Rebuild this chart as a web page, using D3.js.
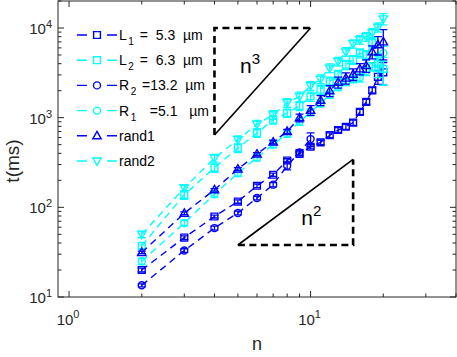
<!DOCTYPE html>
<html><head><meta charset="utf-8">
<script src="https://cdn.jsdelivr.net/npm/d3@7"></script>
<style>body{margin:0;background:#fff} svg{display:block}</style>
</head><body><svg id="c" width="457" height="357"></svg>
<script>
// ---------------- data ----------------
const nVals = [2,3,4,5,6,7,8,9,10,11,12,13,14,15,16,17,18,19,20];
const nValsR2 = [2,3,4,5,6,7,8,9,10];

const L1 = [20, 46, 79, 116, 174, 231, 333, 395, 474, 530, 637, 728, 792, 882, 1158, 1503, 2020, 2856, 3206];
const L1err = [1, 2, 3, 5, 8, 10, 15, 20, 25, 30, 40, 45, 50, 60, 80, 100, 140, 500, 900];

const L2 = [37.3, 138, 276, 458, 673, 948, 1125, 1350, 1722, 2050, 2535, 3008, 3890, 4420, 5250, 5000, 6790, 4000, 3500];
const L2err = [3, 15, 30, 50, 70, 100, 120, 150, 200, 250, 300, 350, 450, 500, 600, 600, 800, 1200, 1200];

const R2 = [13.5, 33, 58.7, 86.5, 127, 179, 291, 410, 577];
const R2err = [0.5, 1.5, 3, 4, 6, 10, 30, 30, 100];

const R1 = [25, 67, 140, 240, 360, 500, 660, 900, 1150, 1450, 1800, 2200, 2500, 2700, 2800, 3300, 3700, 4100, 5250];
const R1err = [2, 5, 10, 18, 30, 40, 55, 80, 100, 130, 160, 200, 220, 250, 300, 350, 400, 800, 1000];

const rand1 = [31.4, 86, 157, 267, 393, 535, 702, 997, 1211, 1565, 1995, 2483, 2762, 3048, 3500, 3800, 5420, 6500, 7010];
const rand1err = [1, 3, 5, 10, 15, 25, 40, 100, 150, 200, 280, 350, 400, 450, 500, 600, 900, 1500, 2600];

const rand2 = [50, 164, 355, 567, 844, 1077, 1466, 1722, 2268, 2693, 3572, 4235, 5420, 6670, 7400, 7980, 8840, 10190, 12650];
const rand2err = [4, 15, 35, 60, 90, 120, 160, 200, 250, 300, 400, 450, 600, 700, 800, 900, 1000, 1200, 1800];

const seriesNames = ["L1", "L2", "R2", "R1", "rand1", "rand2"];
const legendMain = ["L", "L", "R", "R", "rand1", "rand2"];
const legendSub = ["1", "2", "2", "1", "", ""];
const legendRest = ["=  5.3  \u00B5m", "=  6.3  \u00B5m", "=13.2  \u00B5m", "  =5.1   \u00B5m", "", ""];

const xMajorTicks = [1, 10];
const xMajorExp = ["0", "1"];
const xMinorTicks = [2,3,4,5,6,7,8,9,20,30,40];
const yMajorTicks = [10, 100, 1000, 10000];
const yMajorExp = ["1", "2", "3", "4"];
const yMinorTicks = [20,30,40,50,60,70,80,90,200,300,400,500,600,700,800,900,2000,3000,4000,5000,6000,7000,8000,9000,20000];

// slope triangles (data coords)
const tri3X = [4, 10], tri3Y = [640, 10000];
const tri2X = [5, 15], tri2Y = [38, 342];

// ---------------- setup ----------------
const BLUE = "#0000ff", CYAN = "#00ffff", AX = "#262626";
const FONT = "'Liberation Sans', Arial, sans-serif";
const series = [
  {name: "L1", x: nVals, y: L1, e: L1err, color: BLUE, marker: "square"},
  {name: "L2", x: nVals, y: L2, e: L2err, color: CYAN, marker: "square"},
  {name: "R2", x: nValsR2, y: R2, e: R2err, color: BLUE, marker: "circle"},
  {name: "R1", x: nVals, y: R1, e: R1err, color: CYAN, marker: "circle"},
  {name: "rand1", x: nVals, y: rand1, e: rand1err, color: BLUE, marker: "up"},
  {name: "rand2", x: nVals, y: rand2, e: rand2err, color: CYAN, marker: "down"},
];

const L = 58, R = 456, T = 1, B = 297;
const x = d3.scaleLog().domain([0.9, 40]).range([L, R]);
const y = d3.scaleLog().domain([10, 20000]).range([B, T]);

const svg = d3.select("#c");
svg.append("rect").attr("width", 457).attr("height", 357).attr("fill", "#fff");

svg.append("defs").append("clipPath").attr("id", "clip")
  .append("rect").attr("x", L).attr("y", T).attr("width", R - L).attr("height", B - T);

const plot = svg.append("g").attr("clip-path", "url(#clip)");

function markerPath(type) {
  if (type === "square") { const h = 3.4; return `M${-h},${-h}H${h}V${h}H${-h}Z`; }
  if (type === "circle") { return d3.symbol(d3.symbolCircle, Math.PI * 3.5 * 3.5)(); }
  if (type === "up") return "M0,-4.4L4.2,3L-4.2,3Z";
  if (type === "down") return "M0,4.4L4.2,-3L-4.2,-3Z";
}

// slope triangles
const line = d3.line().x(d => x(d[0])).y(d => y(d[1]));
function dashed(pts) {
  plot.append("path").attr("d", line(pts)).attr("fill", "none")
    .attr("stroke", "#000").attr("stroke-width", 2.6).attr("stroke-dasharray", "7,4.5");
}
function solid(pts) {
  plot.append("path").attr("d", line(pts)).attr("fill", "none")
    .attr("stroke", "#000").attr("stroke-width", 1.6);
}
dashed([[tri3X[0], tri3Y[0]], [tri3X[0], tri3Y[1]], [tri3X[1], tri3Y[1]]]);
solid([[tri3X[0], tri3Y[0]], [tri3X[1], tri3Y[1]]]);
dashed([[tri2X[0], tri2Y[0]], [tri2X[1], tri2Y[0]], [tri2X[1], tri2Y[1]]]);
solid([[tri2X[0], tri2Y[0]], [tri2X[1], tri2Y[1]]]);

function powerLabel(px, py, base, exp, fs) {
  const t = svg.append("text").attr("x", px).attr("y", py)
    .attr("font-family", FONT).attr("font-size", fs).attr("fill", "#000");
  t.append("tspan").text(base);
  t.append("tspan").attr("dy", -fs * 0.42).attr("font-size", fs * 0.72).text(exp);
}
powerLabel(x(5.1), y(3140), "n", "3", 21);
powerLabel(x(9.15), y(64), "n", "2", 21);

// series
series.forEach(s => {
  const g = plot.append("g");
  const pts = s.x.map((xv, i) => [xv, s.y[i], s.e[i]]);
  pts.forEach(p => {
    const cx = x(p[0]), y1 = y(p[1] + p[2]), y2 = y(Math.max(p[1] - p[2], 1));
    g.append("path").attr("d", `M${cx},${y1}V${y2}M${cx - 4},${y1}H${cx + 4}M${cx - 4},${y2}H${cx + 4}`)
      .attr("stroke", s.color).attr("stroke-width", 1.3).attr("fill", "none");
  });
  g.append("path").attr("d", line(pts)).attr("fill", "none").attr("stroke", s.color)
    .attr("stroke-width", 1.4).attr("stroke-dasharray", "7,5");
  pts.forEach(p => {
    g.append("path").attr("d", markerPath(s.marker)).attr("transform", `translate(${x(p[0])},${y(p[1])})`)
      .attr("fill", "none").attr("stroke", s.color).attr("stroke-width", 1.4);
  });
});

// axes box
const ax = svg.append("g").attr("stroke", AX).attr("stroke-width", 1).attr("fill", "none");
ax.append("rect").attr("x", L).attr("y", T).attr("width", R - L).attr("height", B - T);
function xTick(v, len) {
  ax.append("path").attr("d", `M${x(v)},${B}V${B - len}M${x(v)},${T}V${T + len}`);
}
function yTick(v, len) {
  ax.append("path").attr("d", `M${L},${y(v)}H${L + len}M${R},${y(v)}H${R - len}`);
}
xMajorTicks.forEach(v => xTick(v, 6));
xMinorTicks.forEach(v => xTick(v, 3.5));
yMajorTicks.forEach(v => yTick(v, 6));
yMinorTicks.forEach(v => yTick(v, 3.5));

// tick labels
xMajorTicks.forEach((v, i) => {
  const t = svg.append("text").attr("x", x(v) - 1).attr("y", 325).attr("text-anchor", "middle")
    .attr("font-family", FONT).attr("font-size", 15).attr("fill", AX);
  t.append("tspan").text("10");
  t.append("tspan").attr("dy", -7).attr("font-size", 11).text(xMajorExp[i]);
});
yMajorTicks.forEach((v, i) => {
  const t = svg.append("text").attr("x", 52).attr("y", y(v) + 6).attr("text-anchor", "end")
    .attr("font-family", FONT).attr("font-size", 15).attr("fill", AX);
  t.append("tspan").text("10");
  t.append("tspan").attr("dy", -6).attr("font-size", 11).text(yMajorExp[i]);
});

// axis labels
svg.append("text").attr("transform", "translate(19,161) rotate(-90)").attr("text-anchor", "middle")
  .attr("font-family", FONT).attr("font-size", 19).attr("fill", AX).text("t(ms)");
svg.append("text").attr("x", x(Math.sqrt(0.9 * 40))).attr("y", 350).attr("text-anchor", "middle")
  .attr("font-family", FONT).attr("font-size", 18).attr("fill", AX).text("n");

// legend
const leg = svg.append("g");
series.forEach((s, i) => {
  const ly = 35 + i * 25.2;
  leg.append("path").attr("d", `M77,${ly}H117`).attr("stroke", s.color).attr("stroke-width", 1.4)
    .attr("stroke-dasharray", "10,20");
  leg.append("path").attr("d", markerPath(s.marker)).attr("transform", `translate(97,${ly})`)
    .attr("fill", "none").attr("stroke", s.color).attr("stroke-width", 1.4);
  const t = leg.append("text").attr("x", 119).attr("y", ly + 5).attr("font-family", FONT)
    .attr("font-size", 14).attr("fill", "#000").attr("xml:space", "preserve").style("white-space", "pre");
  t.append("tspan").text(legendMain[i]);
  if (legendSub[i]) {
    t.append("tspan").attr("dx", 1.5).attr("dy", 5).attr("font-size", 10).text(legendSub[i]);
    t.append("tspan").attr("dx", 2).attr("dy", -5).text(" " + legendRest[i]);
  }
});
</script>
</body></html>
